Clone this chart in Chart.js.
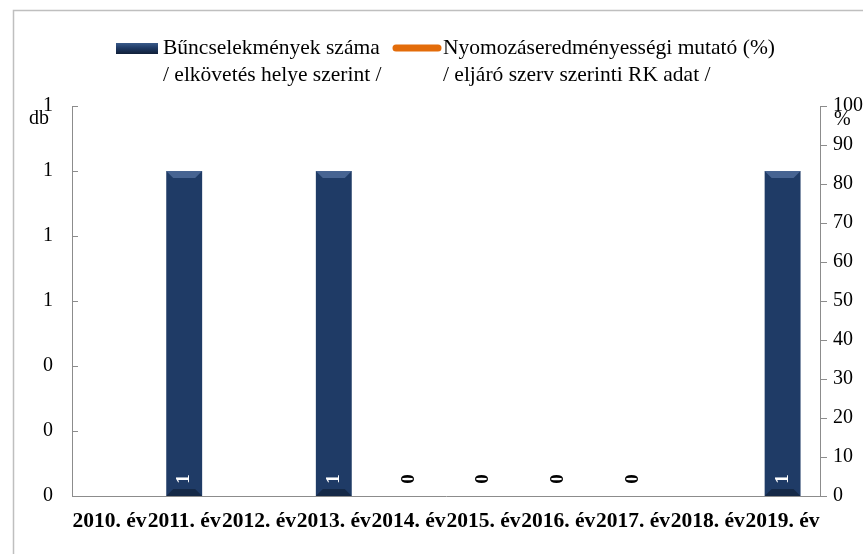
<!DOCTYPE html>
<html>
<head>
<meta charset="utf-8">
<script src="https://cdn.jsdelivr.net/npm/chart.js@4.4.1/dist/chart.umd.min.js"></script>
<style>
    html, body { margin: 0; padding: 0; background: #fff; }
    #wrap { width: 863px; height: 554px; position: relative; }
</style>
</head>
<body>
<div id="wrap"><canvas id="chart" width="863" height="554"></canvas></div>
<script>
const years = ['2010. év', '2011. év', '2012. év', '2013. év', '2014. év', '2015. év', '2016. év', '2017. év', '2018. év', '2019. év'];
const crimeCounts = [null, 1, null, 1, 0, 0, 0, 0, null, 1];
const detectionRate = [null, null, null, null, null, null, null, null, null, null];
const countTicks = [0, 0.2, 0.4, 0.6, 0.8, 1, 1.2];
const rateTicks = [0, 10, 20, 30, 40, 50, 60, 70, 80, 90, 100];
const legendLines = [
    ['Bűncselekmények száma', '/ elkövetés helye szerint /'],
    ['Nyomozáseredményességi mutató (%)', '/ eljáró szerv szerinti RK adat /']
];

const FONT = '"Liberation Serif", "Times New Roman", serif';
const NAVY = '#1f3b66';
const ORANGE = '#e36c0a';
const AXIS = '#8c8c8c';

// bar fill with a bit of a bevel look
function barFill(context) {
    const el = context.element;
    const chart = context.chart;
    if (!el || el.x === undefined) return NAVY;
    const w = el.width || 36;
    const g = chart.ctx.createLinearGradient(el.x - w / 2, 0, el.x + w / 2, 0);
    g.addColorStop(0, '#18305a');
    g.addColorStop(0.12, '#21406e');
    g.addColorStop(0.75, '#1f3c68');
    g.addColorStop(1, '#0a1527');
    return g;
}

const extras = {
    id: 'extras',
    afterDatasetsDraw(chart) {
        const ctx = chart.ctx;
        const yScale = chart.scales.y;
        const meta = chart.getDatasetMeta(0);

        // bevels on top and bottom of bars
        meta.data.forEach((bar, i) => {
            const v = crimeCounts[i];
            if (!v) return;
            const l = bar.x - bar.width / 2, r = bar.x + bar.width / 2;
            const t = bar.y, b = bar.base, d = 7;
            ctx.save();
            ctx.fillStyle = 'rgba(120,150,200,0.45)';
            ctx.beginPath();
            ctx.moveTo(l, t); ctx.lineTo(r, t); ctx.lineTo(r - d, t + d); ctx.lineTo(l + d, t + d);
            ctx.closePath(); ctx.fill();
            ctx.fillStyle = 'rgba(0,0,0,0.3)';
            ctx.beginPath();
            ctx.moveTo(l, b); ctx.lineTo(r, b); ctx.lineTo(r - d, b - d); ctx.lineTo(l + d, b - d);
            ctx.closePath(); ctx.fill();
            ctx.restore();
        });

        // data labels, rotated
        meta.data.forEach((bar, i) => {
            const v = crimeCounts[i];
            if (v === null) return;
            ctx.save();
            ctx.translate(bar.x, yScale.getPixelForValue(0) - 17);
            ctx.rotate(-Math.PI / 2);
            ctx.font = 'bold 19px ' + FONT;
            ctx.fillStyle = v > 0 ? '#ffffff' : '#000000';
            ctx.textAlign = 'center';
            ctx.textBaseline = 'middle';
            ctx.fillText(String(v), 0, 0);
            ctx.restore();
        });

        // inward tick marks on the left axis
        const a = chart.chartArea;
        ctx.save();
        ctx.strokeStyle = AXIS;
        ctx.lineWidth = 1;
        countTicks.forEach(t => {
            const y = Math.round(yScale.getPixelForValue(t)) + 0.5;
            ctx.beginPath();
            ctx.moveTo(a.left, y);
            ctx.lineTo(a.left + 6, y);
            ctx.stroke();
        });
        ctx.restore();
    },
    afterDraw(chart) {
        const ctx = chart.ctx;
        ctx.save();
        // outer frame (runs off the right and bottom edge)
        ctx.strokeStyle = '#bfbfbf';
        ctx.lineWidth = 1.5;
        ctx.strokeRect(13.5, 10.5, 900, 600);

        // axis unit labels
        ctx.font = '20px ' + FONT;
        ctx.fillStyle = '#000';
        ctx.textBaseline = 'middle';
        ctx.textAlign = 'left';
        ctx.fillText('db', 29, 119);
        ctx.fillText('%', 834, 120);

        // legend
        ctx.font = '21.5px ' + FONT;
        const lg = ctx.createLinearGradient(0, 43, 0, 55);
        lg.addColorStop(0, '#3a5a8a');
        lg.addColorStop(0.4, NAVY);
        lg.addColorStop(1, '#0d1a30');
        ctx.fillStyle = lg;
        ctx.fillRect(116, 43, 42, 11);
        ctx.strokeStyle = ORANGE;
        ctx.lineWidth = 7;
        ctx.lineCap = 'round';
        ctx.beginPath();
        ctx.moveTo(396, 48);
        ctx.lineTo(438, 48);
        ctx.stroke();
        ctx.fillStyle = '#000';
        const xs = [163, 443];
        legendLines.forEach((lines, i) => {
            lines.forEach((txt, j) => {
                ctx.fillText(txt, xs[i], 48 + j * 27);
            });
        });
        ctx.restore();
    }
};

const ctx = document.getElementById('chart').getContext('2d');

const chart = new Chart(ctx, {
    type: 'bar',
    data: {
        labels: years,
        datasets: [{
            label: legendLines[0].join(' '),
            data: crimeCounts,
            backgroundColor: barFill,
            borderWidth: 0,
            categoryPercentage: 1,
            barPercentage: 0.48,
            yAxisID: 'y',
            order: 2
        }, {
            type: 'line',
            label: legendLines[1].join(' '),
            data: detectionRate,
            borderColor: ORANGE,
            borderWidth: 4,
            pointRadius: 0,
            yAxisID: 'y1',
            order: 1
        }]
    },
    options: {
        responsive: false,
        animation: false,
        layout: { padding: { top: 106, right: 0, bottom: 0, left: 0 } },
        plugins: {
            legend: { display: false },
            tooltip: { enabled: false }
        },
        scales: {
            x: {
                grid: { display: false, drawTicks: false },
                border: { color: AXIS },
                ticks: {
                    autoSkip: false,
                    maxRotation: 0,
                    padding: 13,
                    color: '#000',
                    font: { family: FONT, size: 21.5, weight: 'bold' }
                },
                afterFit(scale) { scale.height = 58; }
            },
            y: {
                position: 'left',
                min: 0,
                max: 1.2,
                afterBuildTicks(scale) { scale.ticks = countTicks.map(v => ({ value: v })); },
                grid: { display: false, drawTicks: false },
                border: { color: AXIS },
                ticks: {
                    padding: 19,
                    color: '#000',
                    font: { family: FONT, size: 20 },
                    callback: v => Number(v).toFixed(0)
                },
                afterFit(scale) { scale.width = 72; }
            },
            y1: {
                position: 'right',
                min: 0,
                max: 100,
                afterBuildTicks(scale) { scale.ticks = rateTicks.map(v => ({ value: v })); },
                grid: { drawOnChartArea: false, drawTicks: true, tickLength: 7, color: AXIS },
                border: { color: AXIS },
                ticks: {
                    padding: 6,
                    color: '#000',
                    font: { family: FONT, size: 20 }
                },
                afterFit(scale) { scale.width = 43; }
            }
        }
    },
    plugins: [extras]
});
</script>
</body>
</html>
